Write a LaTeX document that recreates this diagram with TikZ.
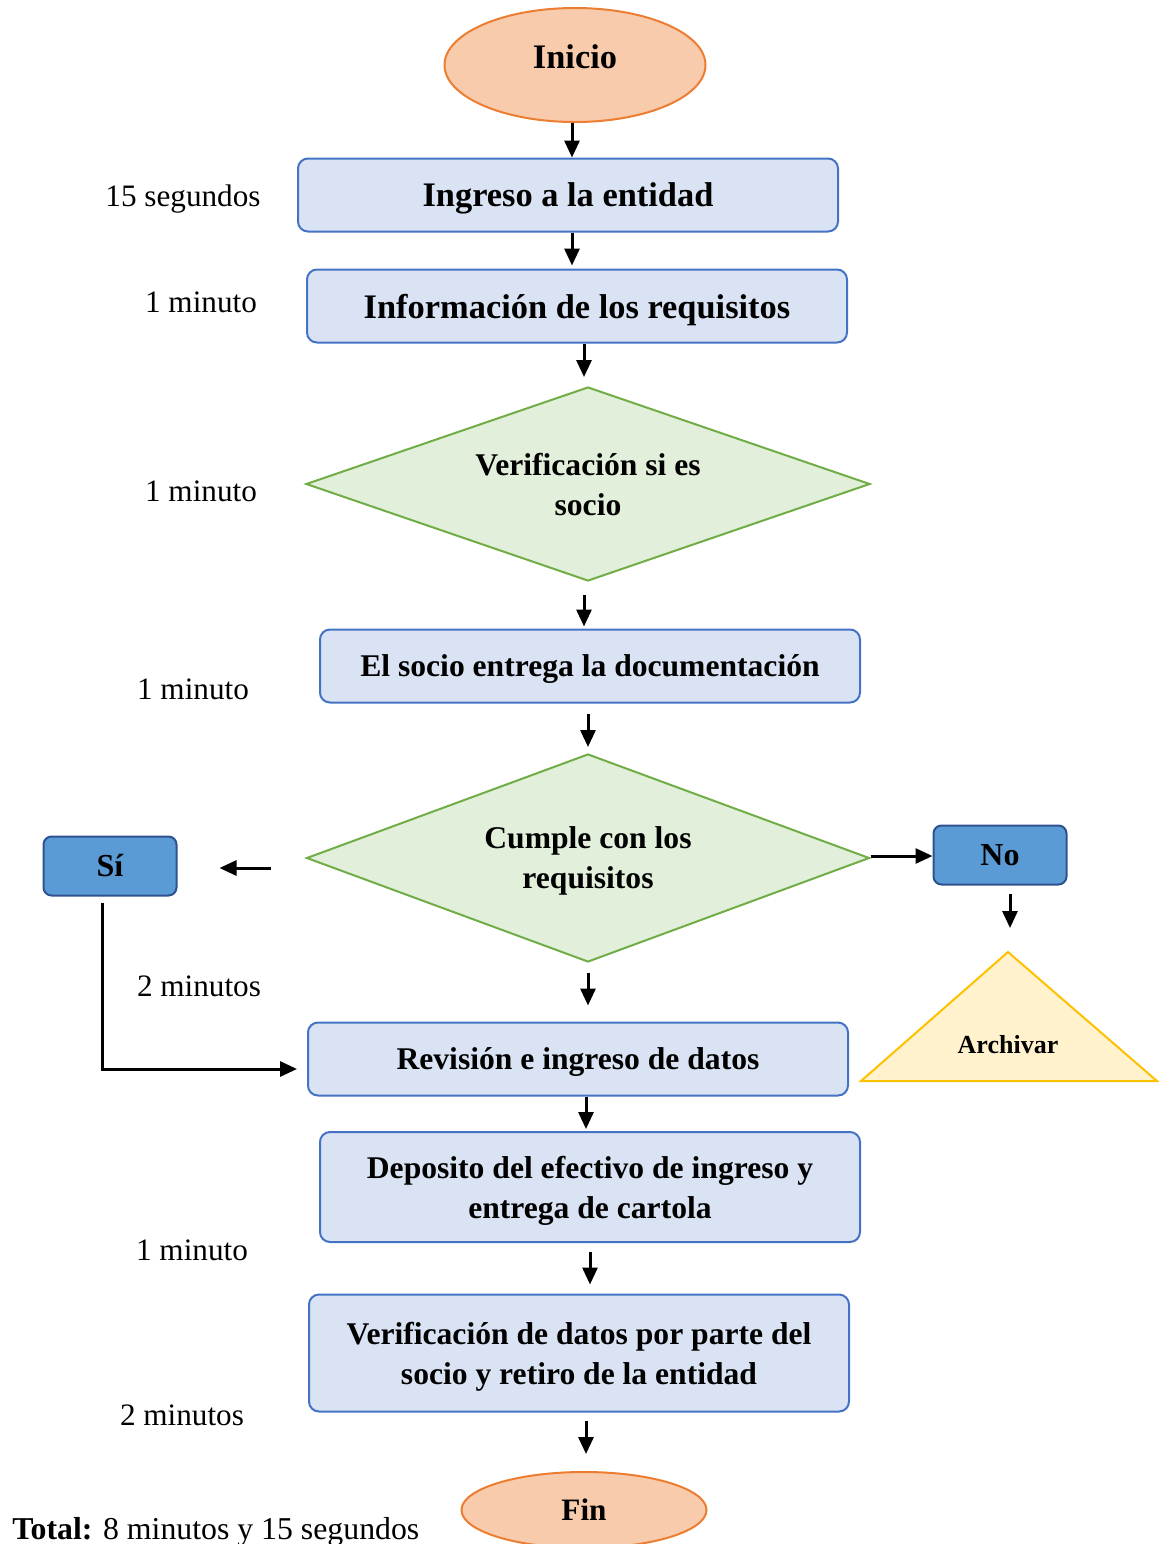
\documentclass[tikz,border=0pt]{standalone}
\usepackage{fontspec}
\setmainfont{Liberation Serif}
\usepackage{tikz}
\usetikzlibrary{
  shapes.geometric,
  arrows.meta,
  positioning
}
\usepackage{xcolor}
\definecolor{ovalfill}{HTML}{F8CBAD}
\definecolor{ovaldraw}{HTML}{ED7D31}
\definecolor{boxfill}{HTML}{DAE3F3}
\definecolor{boxdraw}{HTML}{4472C4}
\definecolor{decfill}{HTML}{E2EFDA}
\definecolor{decdraw}{HTML}{70AD47}
\definecolor{ansfill}{HTML}{5B9BD5}
\definecolor{ansdraw}{HTML}{2F528F}
\definecolor{archfill}{HTML}{FFF2CC}
\definecolor{archdraw}{HTML}{FFC000}

\begin{document}
\begin{tikzpicture}[
    x=0.5pt, y=-0.5pt,
    oval/.style={
      ellipse, draw=ovaldraw, fill=ovalfill, line width=1pt,
      inner sep=0pt, font=\fontsize{17.2}{20}\selectfont\bfseries
    },
    box/.style={
      rectangle, rounded corners=5pt,
      draw=boxdraw, fill=boxfill, line width=1pt,
      minimum width=270pt, minimum height=36.5pt,
      text centered, align=center, text depth=0pt,
      font=\fontsize{15.8}{20}\selectfont\bfseries
    },
    bigbox/.style={box, font=\fontsize{17.2}{20}\selectfont\bfseries},
    decision/.style={
      diamond, aspect=2.9, draw=decdraw, fill=decfill, line width=1pt,
      inner sep=0pt, align=center, text depth=0pt,
      font=\fontsize{15.8}{20}\selectfont\bfseries
    },
    answer/.style={
      rectangle, rounded corners=4pt,
      draw=ansdraw, fill=ansfill, line width=1pt,
      minimum width=66.5pt, minimum height=29.5pt,
      font=\fontsize{16}{20}\selectfont\bfseries
    },
    timelbl/.style={inner sep=0pt, text depth=0pt, font=\fontsize{15.6}{20}\selectfont},
    arr/.style={-{Triangle[length=8.5pt,width=7.5pt]}, line width=1.5pt},
  ]

  \useasboundingbox (0,0) rectangle (1159,1544);

  %% ── Main flow ─────────────────────────────────────────────
  \node[oval, minimum width=130.5pt, minimum height=57pt] (inicio) at (575,65) {\raisebox{8pt}{Inicio}};
  \node[bigbox] (ingreso) at (568,195) {Ingreso a la entidad};
  \node[bigbox] (info)    at (577,306) {Información de los requisitos};
  \node[decision, minimum width=282pt, minimum height=97pt] (verif) at (588,484)
    {Verificación si es\\socio};
  \node[box] (entrega) at (590,666) {El socio entrega la documentación};
  \node[decision, minimum width=281.5pt, minimum height=104pt] (cumple) at (588,858)
    {Cumple con los\\requisitos};
  \node[box] (revision) at (578,1059) {Revisión e ingreso de datos};
  \node[box, minimum height=55pt] (deposito) at (590,1187)
    {Deposito del efectivo de ingreso y\\entrega de cartola};
  \node[box, minimum height=58.5pt] (verdatos) at (579,1353)
    {Verificación de datos por parte del\\socio y retiro de la entidad};
  \node[oval, minimum width=122.5pt, minimum height=38pt,
        font=\fontsize{15.6}{20}\selectfont\bfseries] (fin) at (584,1510) {\raisebox{-4pt}{Fin}};

  %% ── Answers ───────────────────────────────────────────────
  \node[answer] (si) at (110,866) {Sí};
  \node[answer] (no) at (1000,855) {No};

  \draw[draw=archdraw, fill=archfill, line width=1pt]
    (1008,952) -- (1157,1081) -- (861,1081) -- cycle;
  \coordinate (archtop) at (1008,952);
  \node[font=\fontsize{13}{16}\selectfont\bfseries] (archivar) at (1008,1045) {Archivar};

  %% ── Times ─────────────────────────────────────────────────
  \node[timelbl] (t1) at (183,196)  {15 segundos};
  \node[timelbl] (t2) at (201,302)  {1 minuto};
  \node[timelbl] (t3) at (201,491)  {1 minuto};
  \node[timelbl] (t4) at (193,689)  {1 minuto};
  \node[timelbl] (t5) at (199,986)  {2 minutos};
  \node[timelbl] (t6) at (192,1250) {1 minuto};
  \node[timelbl] (t7) at (182,1415) {2 minutos};
  \node[timelbl, anchor=west, font=\fontsize{15.9}{20}\selectfont] (total) at (12,1528)
    {\textbf{Total:} 8 minutos y 15 segundos};

  %% ── Arrows ────────────────────────────────────────────────
  \draw[arr] ([xshift=-1.5pt]inicio.south) -- ([xshift=-1.5pt]inicio.south |- ingreso.north);
  \draw[arr, shorten >=1.5pt] ([xshift=2pt]ingreso.south) -- ([xshift=2pt]ingreso.south |- info.north);
  \draw[arr, shorten >=4.5pt] ([xshift=-2pt]verif.north |- info.south) -- ([xshift=-2pt]verif.north);
  \draw[arr, shorten <=6.5pt, shorten >=1pt] ([xshift=-2pt]verif.south) -- ([xshift=-2pt]verif.south |- entrega.north);
  \draw[arr, shorten <=5pt, shorten >=3pt] (cumple.north |- entrega.south) -- (cumple.north);
  \draw[arr, shorten <=17.5pt, shorten >=21pt] ([yshift=-1pt]cumple.west |- si.east) -- ([yshift=-1pt]si.east);
  \draw[arr] ([yshift=1pt]cumple.east) -- ([yshift=1pt]cumple.east -| no.west);
  \draw[arr, shorten <=4pt, shorten >=12pt] ([xshift=5pt]no.south) -- ([xshift=5pt]no.south |- archtop);
  \draw[arr, shorten <=5pt, shorten >=8pt] (cumple.south) -- (cumple.south |- revision.north);
  \draw[arr, shorten <=3pt, shorten >=5pt] ([xshift=-4pt]si.south) |- ([yshift=-5pt]revision.west);
  \draw[arr, shorten >=1pt] ([xshift=4pt]revision.south) -- ([xshift=4pt]revision.south |- deposito.north);
  \draw[arr, shorten <=4.5pt, shorten >=4.5pt] (deposito.south) -- (deposito.south |- verdatos.north);
  \draw[arr, shorten <=4pt, shorten >=8.5pt] ([xshift=1pt]fin.north |- verdatos.south) -- ([xshift=1pt]fin.north);

\end{tikzpicture}
\end{document}
